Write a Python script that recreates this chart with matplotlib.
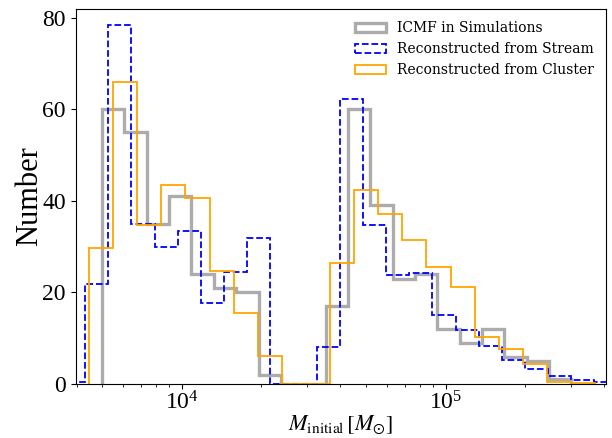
import numpy as np
import matplotlib
matplotlib.use('Agg')
import matplotlib.pyplot as plt

plt.rcParams['mathtext.fontset'] = 'stix'

# log10 mass bin edges (lo, hi) and counts per bin
sim_range = (np.log10(5e3), np.log10(3e5))
sim_counts = [60, 55, 35, 41, 24, 21, 20, 2, 0, 0,
              17, 60, 39, 23, 24, 12, 9, 12, 6, 5, 1]

stream_range = (3.547, 5.652)
stream_counts = [0.4, 21.9, 78.3, 35.0, 30.0, 33.4, 17.6, 24.4, 31.8, 0, 0,
                 8.1, 62.2, 34.8, 23.8, 24.2, 15.1, 11.8, 8.4, 5.2, 3.2,
                 1.8, 0.9, 0.4]

cluster_range = (3.6496, 5.567)
cluster_counts = [29.6, 66.0, 34.8, 43.4, 40.7, 24.7, 15.6, 6.1, 0, 0,
                  26.5, 42.4, 37.1, 31.4, 25.5, 21.2, 10.2, 7.7, 4.4, 0.5, 0.2]

labels = ['ICMF in Simulations', 'Reconstructed from Stream',
          'Reconstructed from Cluster']


def step_hist(ax, rng, counts, **kw):
    bins = np.logspace(rng[0], rng[1], len(counts) + 1)
    centers = np.sqrt(bins[:-1] * bins[1:])
    ax.hist(centers, bins=bins, weights=counts, histtype='step', **kw)


fig = plt.figure(figsize=(6.12, 4.38), dpi=100)
ax = fig.add_axes([0.1237, 0.1233, 0.8665, 0.8562])

step_hist(ax, sim_range, sim_counts, color='gray', alpha=0.65, lw=2.4,
          label=labels[0])
step_hist(ax, stream_range, stream_counts, color='blue', lw=1.3, ls='--',
          label=labels[1])
step_hist(ax, cluster_range, cluster_counts, color='orange', lw=1.3,
          label=labels[2])

ax.set_xscale('log')
ax.set_xlim(10**3.599, 10**5.608)
ax.set_ylim(0, 81.9)
ax.set_yticks([0, 20, 40, 60, 80])

for t in ax.get_xticklabels() + ax.get_yticklabels():
    t.set_fontfamily('Liberation Serif')
ax.tick_params(axis='both', which='major', labelsize=17)
ax.tick_params(axis='x', which='major', pad=2)

ax.set_xlabel(r'$M_{\rm initial}\,[M_{\odot}]$', fontsize=16, labelpad=-1)
ax.set_ylabel('Number', fontsize=22, family='Liberation Serif', labelpad=-1)

ax.legend(loc='upper right', frameon=False, handlelength=2.2,
          prop={'family': 'DejaVu Serif', 'size': 10})

fig.savefig('out.png', dpi=100)
